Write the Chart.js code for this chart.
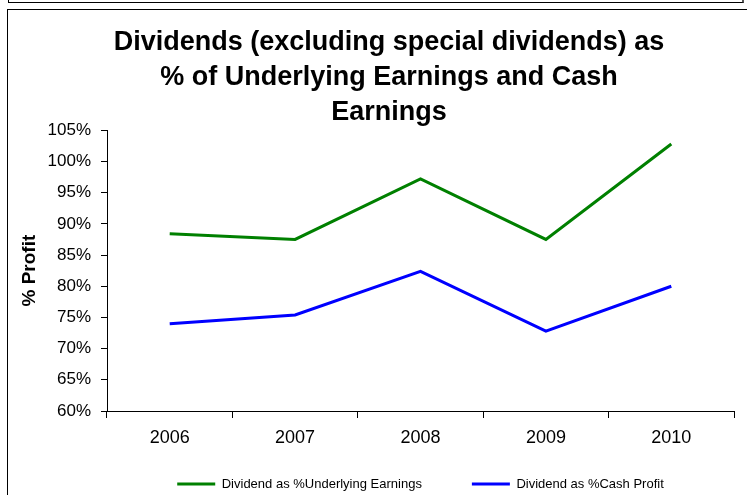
<!DOCTYPE html>
<html>
<head>
<meta charset="utf-8">
<title>Dividends as % of Earnings</title>
<script src="https://cdn.jsdelivr.net/npm/chart.js@4.4.1/dist/chart.umd.min.js"></script>
<style>
  body { margin: 0; background: #fff; }
  #wrap { position: relative; width: 747px; height: 495px; overflow: hidden; }
  #myChart { position: absolute; left: 0; top: 0; }
  .strip { position: absolute; left: 8px; top: -11px; width: 733px; height: 12px; border: 1px solid #000; border-right: 2px solid #555; }
  .frame { position: absolute; left: 7px; top: 9px; right: -5px; bottom: -5px; border-left: 1px solid #000; border-top: 1px solid #000; }
</style>
</head>
<body>
<div id="wrap">
  <canvas id="myChart" width="747" height="495"></canvas>
  <div class="strip"></div>
  <div class="frame"></div>
</div>
<script>
const years = ['2006', '2007', '2008', '2009', '2010']

const underlyingEarnings = [88.4, 87.5, 97.2, 87.5, 102.8]
const cashProfit = [74.0, 75.4, 82.4, 72.8, 80.0]

const yMin = 60
const yMax = 105
const yStep = 5

const titleLines = [
  'Dividends (excluding special dividends) as',
  '% of Underlying Earnings and Cash',
  'Earnings'
]

const fontFamily = "'Liberation Sans', Arial, sans-serif"

const data = {
  labels: years,
  datasets: [{
    label: 'Dividend as %Underlying Earnings',
    data: underlyingEarnings,
    borderColor: '#008000',
    backgroundColor: '#008000',
    borderWidth: 3,
    pointRadius: 0,
    tension: 0,
  }, {
    label: 'Dividend as %Cash Profit',
    data: cashProfit,
    borderColor: '#0000ff',
    backgroundColor: '#0000ff',
    borderWidth: 3,
    pointRadius: 0,
    tension: 0,
  }]
}

// legend sits under the plot area (not the whole canvas), title a bit right of centre
const layoutTweak = {
  id: 'layoutTweak',
  afterLayout(chart) {
    const legend = chart.legend
    const area = chart.chartArea
    legend.left = area.left
    legend.right = area.right
    legend.width = area.right - area.left
    legend.top = area.bottom + 16.5
    chart.titleBlock.left += 26
  }
}

const config = {
  type: 'line',
  data: data,
  options: {
    responsive: false,
    animation: false,
    layout: {
      padding: { left: 18, right: 13, top: 0, bottom: 0 }
    },
    plugins: {
      title: {
        display: true,
        text: titleLines,
        color: '#000',
        font: { family: fontFamily, size: 27, weight: 'bold', lineHeight: 1.3 },
        padding: { top: 25, bottom: 0 }
      },
      legend: {
        position: 'bottom',
        maxHeight: 48,
        labels: {
          color: '#000',
          font: { family: fontFamily, size: 13 },
          usePointStyle: true,
          pointStyle: 'line',
          pointStyleWidth: 38,
          padding: 50
        }
      },
      tooltip: { enabled: false }
    },
    scales: {
      x: {
        offset: true,
        grid: { offset: true, drawOnChartArea: false, tickLength: 7, color: '#000' },
        border: { color: '#000' },
        ticks: { color: '#000', font: { family: fontFamily, size: 18 }, padding: 9 },
        afterFit: function(scale) { scale.height = 36 }
      },
      y: {
        min: yMin,
        max: yMax,
        grid: { drawOnChartArea: false, tickLength: 6, color: '#000' },
        border: { color: '#000' },
        ticks: {
          stepSize: yStep,
          color: '#000',
          padding: 10,
          font: { family: fontFamily, size: 17 },
          callback: function(value) { return value + '%' }
        },
        title: {
          display: true,
          text: '% Profit',
          color: '#000',
          font: { family: fontFamily, size: 19, weight: 'bold' },
          padding: 0
        },
        afterFit: function(scale) { scale.width = 89 }
      }
    }
  },
  plugins: [layoutTweak]
}

const myChart = new Chart(
  document.getElementById('myChart'),
  config
)
</script>
</body>
</html>
